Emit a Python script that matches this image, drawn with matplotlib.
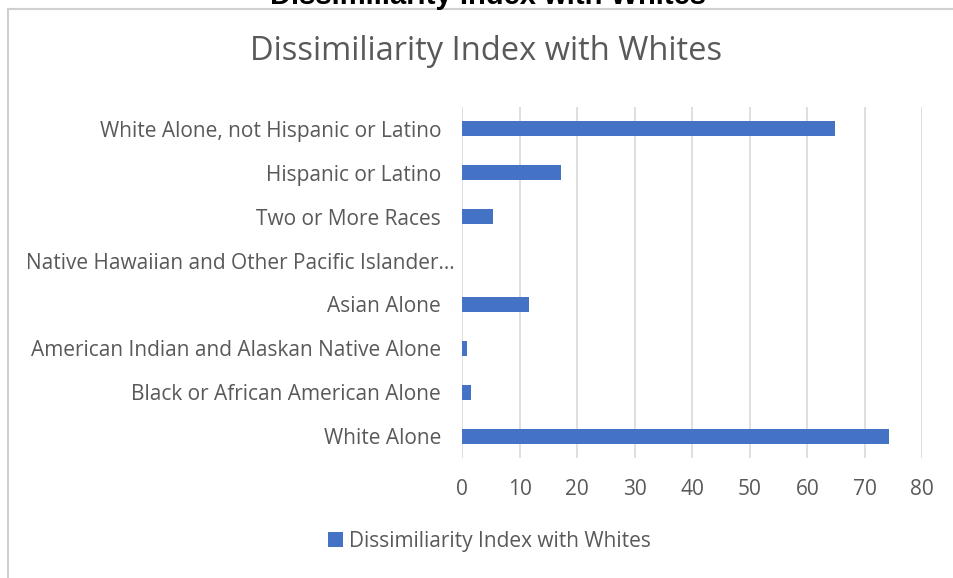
import matplotlib.pyplot as plt
import matplotlib.transforms as mtransforms
from matplotlib.lines import Line2D

categories = ['White Alone', 'Black or African American Alone',
              'American Indian and Alaskan Native Alone', 'Asian Alone',
              'Native Hawaiian and Other Pacific Islander...',
              'Two or More Races', 'Hispanic or Latino',
              'White Alone, not Hispanic or Latino']
values = [74.2, 1.5, 0.8, 11.6, 0.0, 5.3, 17.2, 64.8]
xticks = [0, 10, 20, 30, 40, 50, 60, 70, 80]
title = 'Dissimiliarity Index with Whites'

blue = '#4472C4'
grey = '#595959'
font = 'Open Sans'
fs = 15

fig = plt.figure(figsize=(9.54, 5.78), dpi=100)
ax = fig.add_axes([0.4843, 0.2076, 0.4825, 0.6073])

ax.barh(range(len(categories)), values, height=0.34, color=blue,
        label=title, zorder=3)
ax.set_ylim(-0.5, len(categories) - 0.5)
ax.set_xlim(0, 80)
ax.set_xticks(xticks)
ax.set_yticks(range(len(categories)))
ax.set_yticklabels(categories, fontsize=fs, color=grey, family=font)
for lbl in ax.get_xticklabels():
    lbl.set_fontsize(fs)
    lbl.set_color(grey)
    lbl.set_family(font)
ax.tick_params(axis='both', length=0)
ax.tick_params(axis='y', pad=15)
ax.tick_params(axis='x', pad=15)
ax.grid(axis='x', color='#d9d9d9', linewidth=1.2, zorder=0)
for s in ax.spines.values():
    s.set_visible(False)

# the truncated label sits a bit further right, like in the original
lbl = ax.get_yticklabels()[4]
lbl.set_transform(lbl.get_transform() +
                  mtransforms.ScaledTranslation(0.13, 0, fig.dpi_scale_trans))

# chart title inside the frame
fig.text(0.5095, 1 - 52 / 578, title, ha='center', va='center',
         fontsize=23.5, color=grey, family=font)

# cut off bold title at top of the page
fig.text(0.5115, 1 - 4 / 578, title, ha='center', va='baseline',
         fontsize=21, fontweight='bold', color='black', family='Liberation Sans')

# chart frame (top and left edges)
fig.add_artist(Line2D([8 / 954, 1], [1 - 9 / 578, 1 - 9 / 578],
                      color='#d0d0d0', linewidth=1.5))
fig.add_artist(Line2D([8 / 954, 8 / 954], [0, 1 - 9 / 578],
                      color='#d0d0d0', linewidth=1.5))

leg = fig.legend(loc='center', bbox_to_anchor=(0.513, 1 - 541 / 578),
                 frameon=False, handlelength=0.7, handleheight=0.7,
                 handletextpad=0.3, prop={'family': font, 'size': fs})
for t in leg.get_texts():
    t.set_color(grey)

fig.savefig('out.png', dpi=100)
